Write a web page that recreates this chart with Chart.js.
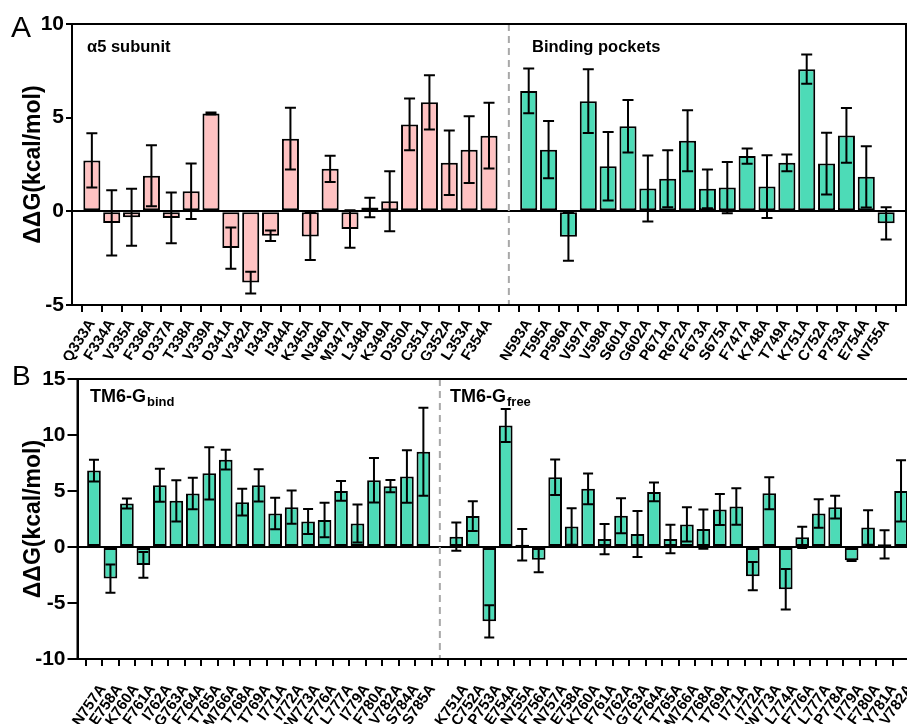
<!DOCTYPE html>
<html>
<head>
<meta charset="utf-8">
<script src="https://cdn.jsdelivr.net/npm/chart.js@4.4.1/dist/chart.umd.min.js"></script>
<style>
  html, body { margin: 0; padding: 0; background: #fff; width: 907px; height: 724px; overflow: hidden; }
  #wrapA { position: absolute; left: 0; top: 0; width: 907px; height: 360px; }
  #wrapB { position: absolute; left: 0; top: 360px; width: 907px; height: 364px; overflow: hidden; }
  canvas { display: block; }
</style>
</head>
<body>
<div id="wrapA"><canvas id="chartA" width="907" height="360"></canvas></div>
<div id="wrapB"><canvas id="chartB" width="918" height="364"></canvas></div>
<script>
// ---- Panel A: alpha5 subunit residues ----
const alphaLabels = ['Q333A','F334A','V335A','F336A','D337A','T338A','V339A','D341A','V342A','I343A',
  'I344A','K345A','N346A','M347A','L348A','K349A','D350A','C351A','G352A','L353A','F354A'];
const alphaValues = [2.72,-0.62,-0.32,1.9,-0.35,1.07,5.22,-1.96,-3.8,-1.3,
  3.88,-1.34,2.27,-0.94,0.21,0.54,4.64,5.82,2.59,3.29,4.04];
const alphaErrors = [1.45,1.74,1.52,1.63,1.36,1.48,0.05,1.1,0.58,0.28,
  1.65,1.26,0.7,1.0,0.52,1.6,1.38,1.45,1.72,1.78,1.76];

// ---- Panel A: binding pocket residues ----
const pocketLabels = ['N593A','T595A','P596A','V597A','V598A','S601A','G602A','P671A','R672A','F673A',
  'S675A','F747A','K748A','T749A','K751A','C752A','P753A','E754A','N755A'];
const pocketValues = [6.43,3.29,-1.36,5.88,2.41,4.54,1.22,1.74,3.77,1.2,
  1.27,2.95,1.32,2.59,7.59,2.55,4.05,1.84,-0.64];
const pocketErrors = [1.2,1.53,1.28,1.7,1.83,1.4,1.76,1.52,1.63,1.03,
  1.37,0.41,1.67,0.45,0.78,1.65,1.46,1.64,0.86];

// ---- Panel B: TM6 with G protein bound ----
const bindLabels = ['N757A','E758A','K760A','F761A','I762A','G763A','F764A','T765A','M766A','T768A',
  'T769A','I771A','I772A','W773A','F776A','L777A','I779A','F780A','V782A','S784A','S785A'];
const bindValues = [6.82,-2.82,3.88,-1.6,5.51,4.12,4.77,6.58,7.8,4.0,
  5.51,2.99,3.56,2.28,2.4,5.01,2.1,5.96,5.43,6.29,8.51];
const bindErrors = [0.98,1.26,0.45,1.15,1.48,1.84,1.41,2.33,0.89,1.19,
  1.44,1.41,1.48,1.11,1.54,0.89,1.69,1.99,0.55,2.34,3.93];

// ---- Panel B: TM6 with G protein free ----
const freeLabels = ['K751A','C752A','P753A','E754A','N755A','F756A','N757A','E758A','K760A','F761A',
  'I762A','G763A','F764A','T765A','M766A','T768A','T769A','I771A','I772A','W773A',
  'L774A','F776A','L777A','P778A','I779A','F780A','Y781A','V782A'];
const freeValues = [0.92,2.76,-6.64,10.85,0.2,-1.13,6.23,1.84,5.19,0.71,
  2.79,1.16,4.92,0.71,2.02,1.6,3.35,3.62,-2.61,4.8,
  -3.77,0.86,2.99,3.56,-1.19,1.75,0.24,5.01];
const freeErrors = [1.26,1.33,1.45,1.47,1.4,1.13,1.59,1.63,1.38,1.35,
  1.57,2.05,0.84,1.27,1.53,1.75,1.39,1.63,1.26,1.42,
  1.81,0.95,1.28,1.01,0.05,1.54,1.26,2.73];

const ticksA = [-5, 0, 5, 10];
const ticksB = [-10, -5, 0, 5, 10, 15];

const PINK = '#ffc2c2';
const GREEN = '#4ddbb7';
const FONT = '"Liberation Sans", Arial, sans-serif';

// Lay two groups on one category axis: an empty slot before, between and after them.
function buildGroups(labA, valA, errA, labB, valB, errB) {
  const nA = labA.length, nB = labB.length;
  const nulls = n => new Array(n).fill(null);
  return {
    labels: ['', ...labA, '', ...labB, ''],
    gapIndex: nA + 1,
    first: { data: [null, ...valA, null, ...nulls(nB), null], errors: [null, ...errA, null, ...nulls(nB), null] },
    second: { data: [null, ...nulls(nA), null, ...valB, null], errors: [null, ...nulls(nA), null, ...errB, null] }
  };
}

// Error bars, group separator, frame and in-plot titles
const decorations = {
  id: 'decorations',
  beforeDatasetsDraw(chart, args, opts) {
    const { ctx, chartArea } = chart;
    const x = chart.scales.x.getPixelForValue(opts.gapIndex);
    ctx.save();
    ctx.strokeStyle = '#a8a8a8';
    ctx.lineWidth = 2;
    ctx.setLineDash([7, 5]);
    ctx.beginPath();
    ctx.moveTo(x, chartArea.top);
    ctx.lineTo(x, chartArea.bottom);
    ctx.stroke();
    ctx.restore();
  },
  afterDatasetsDraw(chart, args, opts) {
    const { ctx, chartArea } = chart;
    const y = chart.scales.y;
    ctx.save();
    ctx.strokeStyle = '#000';
    ctx.lineWidth = 2;
    ctx.lineCap = 'butt';
    chart.data.datasets.forEach((ds, di) => {
      const meta = chart.getDatasetMeta(di);
      ds.data.forEach((v, i) => {
        if (v === null) return;
        const e = ds.errors[i];
        const x = meta.data[i].x;
        const yt = y.getPixelForValue(v + e);
        const yb = y.getPixelForValue(v - e);
        ctx.beginPath();
        ctx.moveTo(x, yt); ctx.lineTo(x, yb);
        ctx.moveTo(x - opts.cap, yt); ctx.lineTo(x + opts.cap, yt);
        ctx.moveTo(x - opts.cap, yb); ctx.lineTo(x + opts.cap, yb);
        ctx.stroke();
      });
    });
    // frame
    ctx.lineWidth = 2;
    ctx.strokeRect(chartArea.left, chartArea.top, chartArea.right - chartArea.left, chartArea.bottom - chartArea.top);
    // titles
    ctx.fillStyle = '#000';
    ctx.textBaseline = 'alphabetic';
    ctx.textAlign = 'left';
    opts.texts.forEach(t => {
      ctx.font = 'bold ' + t.size + 'px ' + FONT;
      ctx.fillText(t.text, t.x, t.y);
      if (t.sub) {
        const w = ctx.measureText(t.text).width;
        ctx.font = 'bold ' + t.subSize + 'px ' + FONT;
        ctx.fillText(t.sub, t.x + w + 1, t.y + 4);
      }
    });
    // panel letter
    ctx.font = opts.letterSize + 'px ' + FONT;
    ctx.fillText(opts.letter, opts.letterX, opts.letterY);
    ctx.restore();
  }
};

function makeChart(id, g, cfg) {
  return new Chart(document.getElementById(id), {
    type: 'bar',
    data: {
      labels: g.labels,
      datasets: [
        { data: g.first.data, errors: g.first.errors, backgroundColor: cfg.colors[0] },
        { data: g.second.data, errors: g.second.errors, backgroundColor: cfg.colors[1] }
      ]
    },
    options: {
      responsive: false,
      animation: false,
      devicePixelRatio: 1,
      layout: { padding: cfg.padding },
      datasets: {
        bar: {
          grouped: false,
          borderColor: '#000',
          borderWidth: 2,
          borderSkipped: false,
          categoryPercentage: 1,
          barPercentage: cfg.barPct
        }
      },
      plugins: {
        legend: { display: false },
        tooltip: { enabled: false },
        decorations: {
          gapIndex: g.gapIndex, cap: cfg.cap, texts: cfg.texts,
          letter: cfg.letter, letterX: cfg.letterX, letterY: cfg.letterY, letterSize: cfg.letterSize
        }
      },
      scales: {
        x: {
          type: 'category',
          offset: false,
          grid: { display: true, drawOnChartArea: false, color: '#000', lineWidth: 2, tickLength: 7 },
          border: { display: true, color: '#000', width: 2 },
          ticks: {
            autoSkip: false, minRotation: cfg.rot, maxRotation: cfg.rot,
            color: '#000', padding: cfg.xPad, labelOffset: cfg.xLabelOffset,
            font: { family: FONT, size: cfg.xFont, weight: 'bold' }
          },
          afterFit(s) { s.height = cfg.xHeight; s.paddingLeft = 0; s.paddingRight = 0; }
        },
        y: {
          min: cfg.yMin, max: cfg.yMax,
          afterBuildTicks(s) { s.ticks = cfg.yTicks.map(v => ({ value: v })); },
          grid: {
            color: c => (c.tick && c.tick.value === 0 ? '#000' : 'rgba(0,0,0,0)'),
            tickColor: '#000', lineWidth: 2, tickLength: cfg.yTickLen, drawOnChartArea: true
          },
          border: { display: true, color: '#000', width: 2 },
          ticks: { color: '#000', padding: 2, font: { family: FONT, size: 21, weight: 'bold' } },
          title: {
            display: true, text: 'ΔΔG(kcal/mol)', color: '#000', padding: { top: 0, bottom: 0 },
            font: { family: FONT, size: 23, weight: 'bold' }
          },
          afterFit(s) { s.width = cfg.yWidth; }
        }
      }
    },
    plugins: [decorations]
  });
}

const groupsA = buildGroups(alphaLabels, alphaValues, alphaErrors, pocketLabels, pocketValues, pocketErrors);
const groupsB = buildGroups(bindLabels, bindValues, bindErrors, freeLabels, freeValues, freeErrors);

makeChart('chartA', groupsA, {
  colors: [PINK, GREEN],
  padding: { left: 20, right: 1, top: 24, bottom: 0 },
  barPct: 0.86, cap: 5.5,
  rot: 58, xPad: 4, xLabelOffset: 0, xFont: 15, xHeight: 55,
  yMin: -5, yMax: 10, yTicks: ticksA, yTickLen: 6, yWidth: 52,
  texts: [
    { text: 'α5 subunit', x: 87, y: 52, size: 16.5 },
    { text: 'Binding pockets', x: 532, y: 52, size: 16.5 }
  ],
  letter: 'A', letterX: 11, letterY: 37, letterSize: 30
});

makeChart('chartB', groupsB, {
  colors: [GREEN, GREEN],
  padding: { left: 20, right: 0.5, top: 19, bottom: 0 },
  barPct: 0.83, cap: 5,
  rot: 55, xPad: 15, xLabelOffset: 9, xFont: 15, xHeight: 65,
  yMin: -10, yMax: 15, yTicks: ticksB, yTickLen: 10, yWidth: 57.5,
  texts: [
    { text: 'TM6-G', sub: 'bind', subSize: 13, x: 90, y: 42, size: 18 },
    { text: 'TM6-G', sub: 'free', subSize: 13, x: 450, y: 42, size: 18 }
  ],
  letter: 'B', letterX: 12, letterY: 25, letterSize: 28
});
</script>
</body>
</html>
